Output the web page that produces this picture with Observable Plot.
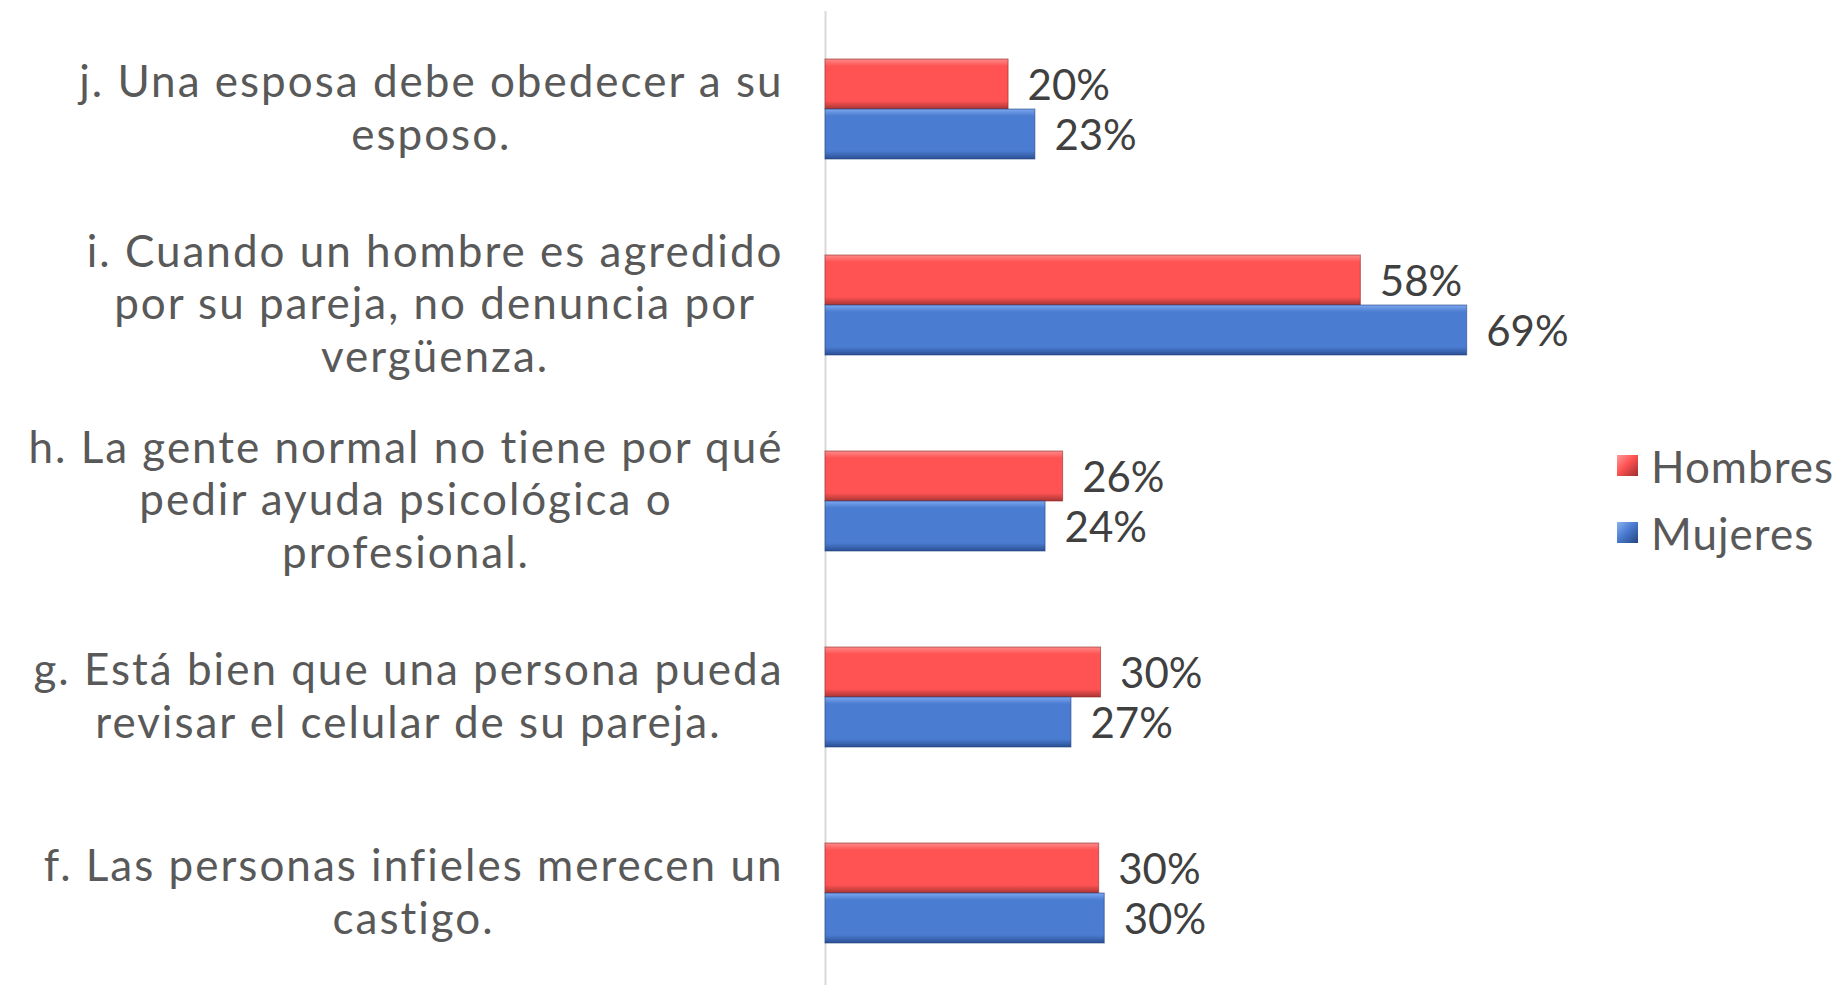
<!DOCTYPE html>
<html>
<head>
<meta charset="utf-8">
<script src="https://cdn.jsdelivr.net/npm/d3@7"></script>
<script src="https://cdn.jsdelivr.net/npm/@observablehq/plot@0.6"></script>
<style>
  html, body { margin: 0; padding: 0; background: #fff; overflow: hidden; }
  #wrap { position: relative; width: 1837px; height: 985px; overflow: hidden; }
  #legend { position: absolute; left: 1617px; top: 432px; font-family: Lato, "Open Sans", sans-serif; font-size: 44px; letter-spacing: 1px; color: #595959; }
  .li { display: flex; align-items: center; height: 67px; }
  .sw { width: 21px; height: 21px; margin-right: 13px; }
  [aria-label="fy-axis tick label"] text { letter-spacing: 2px; }
</style>
</head>
<body>
<div id="wrap">
  <div id="chart"></div>
  <div id="legend"></div>
</div>
<script>
// ---- data ----
const categories = [
  "j. Una esposa debe obedecer a su\nesposo.",
  "i. Cuando un hombre es agredido\npor su pareja, no denuncia por\nvergüenza.",
  "h. La gente normal no tiene por qué\npedir ayuda psicológica o\nprofesional.",
  "g. Está bien que una persona pueda\nrevisar el celular de su pareja.",
  "f. Las personas infieles merecen un\ncastigo."
];
const series = ["Hombres", "Mujeres"];
const hombres = [19.8, 57.9, 25.7, 29.8, 29.6];
const mujeres = [22.7, 69.4, 23.8, 26.6, 30.2];

const rows = [];
categories.forEach((c, i) => {
  rows.push({cat: c, serie: "Hombres", value: hombres[i]});
  rows.push({cat: c, serie: "Mujeres", value: mujeres[i]});
});

const FONT = "Lato, 'Open Sans', sans-serif";

// gradient defs for bevel look
const defs = () => {
  const d = d3.create("svg:defs");
  const mk = (id, light, mid, dark) => {
    const g = d.append("linearGradient").attr("id", id).attr("x1", 0).attr("y1", 0).attr("x2", 0).attr("y2", 1);
    g.append("stop").attr("offset", "0%").attr("stop-color", light);
    g.append("stop").attr("offset", "14%").attr("stop-color", mid);
    g.append("stop").attr("offset", "84%").attr("stop-color", mid);
    g.append("stop").attr("offset", "100%").attr("stop-color", dark);
  };
  mk("gH", "#FF8A8A", "#FF5353", "#A83434");
  mk("gM", "#7DA6EE", "#4A7CD1", "#2B4F93");
  return d.node();
};

const chart = Plot.plot({
  width: 1837,
  height: 993,
  marginLeft: 825,
  marginRight: 276,
  marginTop: 9,
  marginBottom: 0,
  style: {fontFamily: FONT, background: "#fff"},
  x: {domain: [0, 79.6], axis: null},
  y: {domain: series, axis: null, paddingInner: 0, paddingOuter: 0.926},
  fy: {domain: categories, padding: 0},
  color: {domain: series, range: ["url(#gH)", "url(#gM)"]},
  marks: [
    defs,
    Plot.ruleX([0], {stroke: "#D9D9D9", strokeWidth: 2}),
    Plot.barX(rows, {
      x: "value", y: "serie", fy: "cat",
      fill: "serie",
      stroke: d => d.serie === "Hombres" ? "#8E2A2A" : "#23427E",
      strokeWidth: 1, strokeOpacity: 0.6
    }),
    Plot.text(rows, {
      x: "value", y: "serie", fy: "cat",
      text: d => Math.round(d.value) + "%",
      textAnchor: "start", dx: 19, dy: 2,
      fontSize: 42, fill: "#404040"
    }),
    Plot.axisFy({
      anchor: "left", tickSize: 0, tickPadding: 0,
      textAnchor: "middle", lineHeight: 1.2, dy: -3,
      fontSize: 44, fill: "#595959", label: null
    })
  ]
});

document.getElementById("chart").appendChild(chart);

// right-align each label block (lines centered within block), keep inside left edge
const R = 783, L = 14;
chart.querySelectorAll('[aria-label="fy-axis tick label"] text').forEach(t => {
  const bb = t.getBBox();
  const tr = t.getAttribute("transform") || "";
  const m = /translate\(([-\d.]+),?\s*([-\d.]+)?\)/.exec(tr);
  const tx = m ? +m[1] : 0;
  let shift = R - (tx + bb.x + bb.width);
  if (tx + bb.x + shift < L) shift = L - (tx + bb.x);
  t.setAttribute("transform", tr + ` translate(${shift},0)`);
});

// legend
const lg = document.getElementById("legend");
const grads = ["linear-gradient(135deg,#FF9A9A,#FF5353 45%,#9E2E2E)", "linear-gradient(135deg,#8DB2F2,#4A7CD1 45%,#24457F)"];
series.forEach((s, i) => {
  const it = document.createElement("div");
  it.className = "li";
  it.innerHTML = `<div class="sw" style="background:${grads[i]}"></div><span>${s}</span>`;
  lg.appendChild(it);
});
</script>
</body>
</html>
